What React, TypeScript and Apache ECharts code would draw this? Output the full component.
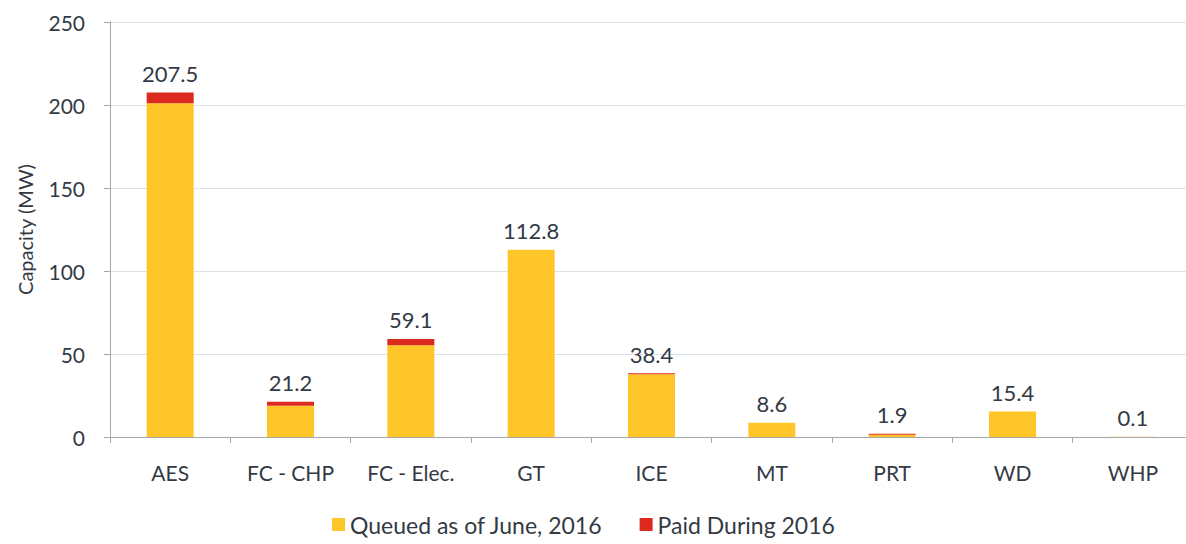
import React, { useEffect, useRef } from "react";
import * as echarts from "echarts";

const categories = ["AES", "FC - CHP", "FC - Elec.", "GT", "ICE", "MT", "PRT", "WD", "WHP"];
const queued = [201.0, 18.8, 55.2, 112.8, 37.8, 8.6, 1.3, 15.4, 0.1];
const paid = [6.5, 2.4, 3.9, 0, 0.6, 0, 0.6, 0, 0];
const totals = [207.5, 21.2, 59.1, 112.8, 38.4, 8.6, 1.9, 15.4, 0.1];

const FONT = "Lato";
const TEXT = "#333a44";

export default function App() {
  const ref = useRef<HTMLDivElement>(null);
  useEffect(() => {
    document.body.style.margin = "0";
    document.body.style.overflow = "hidden";
    const chart = echarts.init(ref.current!, null, { renderer: "svg" });
    chart.setOption({
      animation: false,
      textStyle: { fontFamily: FONT },
      grid: { left: 110, top: 22, width: 1083, height: 415, containLabel: false },
      legend: {
        bottom: 3,
        left: 327,
        itemWidth: 13,
        itemHeight: 13,
        itemGap: 37,
        icon: "rect",
        textStyle: { fontFamily: FONT, fontSize: 23, color: TEXT },
        data: ["Queued as of June, 2016", "Paid During 2016"],
      },
      xAxis: {
        type: "category",
        data: categories,
        axisLine: { lineStyle: { color: "#a6a6a6", width: 1 } },
        axisTick: { show: true, length: 6, lineStyle: { color: "#a6a6a6" } },
        axisLabel: { fontFamily: FONT, fontSize: 21, color: TEXT, margin: 25 },
      },
      yAxis: {
        type: "value",
        min: 0,
        max: 250,
        interval: 50,
        name: "Capacity (MW)",
        nameLocation: "middle",
        nameGap: 75,
        nameRotate: 90,
        nameTextStyle: { fontFamily: FONT, fontSize: 20, color: TEXT },
        axisLine: { show: true, lineStyle: { color: "#a6a6a6" } },
        axisTick: { show: true, length: 6, lineStyle: { color: "#a6a6a6" } },
        splitLine: { show: true, lineStyle: { color: "#d9e1ea", width: 1 } },
        axisLabel: { fontFamily: FONT, fontSize: 21, color: TEXT, margin: 25 },
      },
      series: [
        {
          name: "Queued as of June, 2016",
          type: "bar",
          stack: "s",
          barWidth: 47,
          itemStyle: { color: "#FFC629" },
          data: queued,
        },
        {
          name: "Paid During 2016",
          type: "bar",
          stack: "s",
          barWidth: 47,
          itemStyle: { color: "#DD2A1E" },
          data: paid,
          label: {
            show: true,
            position: "top",
            distance: 8,
            fontFamily: FONT,
            fontSize: 22,
            color: TEXT,
            formatter: (p: any) => totals[p.dataIndex].toFixed(1),
          },
        },
      ],
    });
    return () => chart.dispose();
  }, []);
  return <div ref={ref} style={{ width: 1200, height: 544 }} />;
}
